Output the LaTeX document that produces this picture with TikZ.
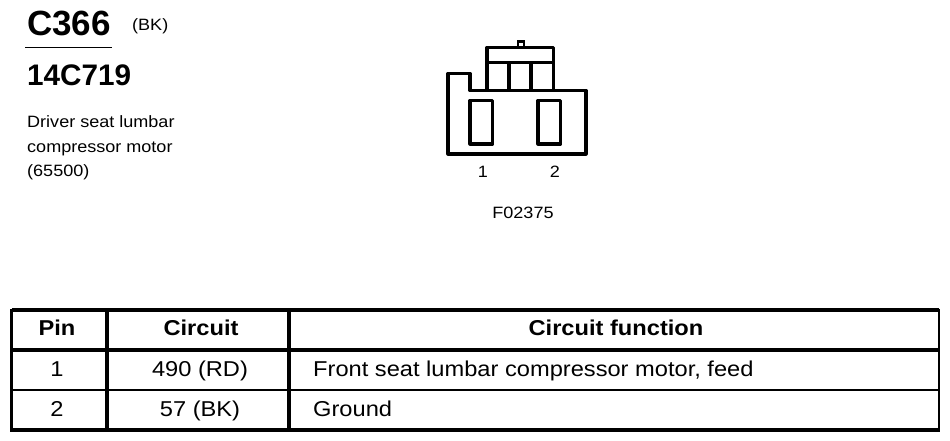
\documentclass[tikz,border=0pt]{standalone}
\usepackage{fontspec}
\setmainfont{Liberation Sans}
\newfontfamily\widefont[FakeStretch=1.1]{Liberation Sans}
\definecolor{cnInk}{HTML}{000000}
\tikzset{
  heavyline/.style={draw=cnInk, line width=3.2pt},
  thinline/.style={draw=cnInk, line width=2.4pt},
  shellline/.style={draw=cnInk, line width=3.2pt, line join=round},
  leftlabel/.style={text=cnInk, anchor=base west, inner sep=0pt},
  midlabel/.style={text=cnInk, anchor=base, inner sep=0pt},
  headfont/.style={font=\widefont\fontsize{21.5}{24}\selectfont\bfseries},
  cellfont/.style={font=\widefont\fontsize{21.5}{24}\selectfont},
  notefont/.style={font=\widefont\fontsize{16.4}{19}\selectfont}
}

\begin{document}
\begin{tikzpicture}[x=1pt, y=-1pt]
  \useasboundingbox (0,0) rectangle (950,441);
  \fill[white] (0,0) rectangle (950,441);

  % Title block
  \node[leftlabel, font=\fontsize{35}{38}\selectfont\bfseries] (conntitle) at (27,36) {C366};
  \node[leftlabel, notefont] (conncolor) at (132,31) {(BK)};
  \draw[cnInk, line width=1.8pt] (25,47.5) -- (112,47.5);
  \node[leftlabel, font=\fontsize{29.7}{32}\selectfont\bfseries] (partno) at (27,86) {14C719};
  \node[leftlabel, notefont] (descone) at (27,128) {Driver seat lumbar};
  \node[leftlabel, notefont] (desctwo) at (27,152) {compressor motor};
  \node[leftlabel, notefont] (descthree) at (27,176) {(65500)};

  % Connector shell
  \draw[shellline] (448,154) -- (448,73.5) -- (470,73.5) -- (470,90.5) -- (586,90.5) -- (586,154) -- cycle;
  \draw[shellline] (487,90.5) -- (487,47.5) -- (553.5,47.5) -- (553.5,90.5);
  \draw[shellline] (487,62.5) -- (553.5,62.5);
  \foreach \divx in {509,531}
    \draw[shellline] (\divx,62.5) -- (\divx,90.5);
  \draw[thinline, line width=2.6pt] (518,47) -- (518,41.5) -- (524,41.5) -- (524,47);

  % Terminals
  \foreach \holex in {470,538}
    \draw[shellline] (\holex,100.5) rectangle ++(22.5,43.5);

  % Pin numbers
  \node[midlabel, notefont] (pinone) at (483,177) {1};
  \node[midlabel, notefont] (pintwo) at (555,177) {2};
  \node[midlabel, notefont] (figref) at (523,218) {F02375};

  % Table
  \draw[heavyline] (11.5,310) -- (939,310);
  \draw[heavyline] (11.5,350) -- (939,350);
  \draw[thinline] (11.5,390) -- (939,390);
  \draw[heavyline] (11,430) -- (939,430);
  \draw[heavyline] (11.5,308.5) -- (11.5,431.5);
  \draw[heavyline] (107,310) -- (107,430);
  \draw[heavyline] (289,310) -- (289,430);
  \draw[thinline] (939,308.5) -- (939,431.5);

  % Cells
  \node[midlabel, headfont] (headpin) at (57,335) {Pin};
  \node[midlabel, headfont] (headcircuit) at (201,335) {Circuit};
  \node[midlabel, headfont] (headfunc) at (616,335) {Circuit function};

  \node[midlabel, cellfont] (rowonepin) at (57,376) {1};
  \node[midlabel, cellfont] (rowonecircuit) at (200,376) {490 (RD)};
  \node[leftlabel, cellfont] (rowonefunc) at (313,376) {Front seat lumbar compressor motor, feed};

  \node[midlabel, cellfont] (rowtwopin) at (57,416) {2};
  \node[midlabel, cellfont] (rowtwocircuit) at (200,416) {57 (BK)};
  \node[leftlabel, cellfont] (rowtwofunc) at (313,416) {Ground};
\end{tikzpicture}
\end{document}
